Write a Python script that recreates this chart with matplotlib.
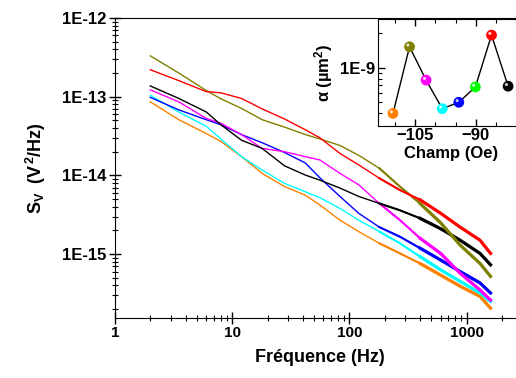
import matplotlib
matplotlib.use('Agg')
import matplotlib.pyplot as plt
from matplotlib import ticker
import matplotlib.transforms as mtransforms

plt.rcParams['font.family'] = ['Liberation Sans', 'DejaVu Sans']
plt.rcParams['font.weight'] = 'bold'
plt.rcParams['mathtext.fontset'] = 'custom'
plt.rcParams['mathtext.rm'] = 'Liberation Sans:bold'
plt.rcParams['mathtext.it'] = 'Liberation Sans:bold'
plt.rcParams['mathtext.bf'] = 'Liberation Sans:bold'

# frequencies (Hz) where the spectra were read
freq = [2, 3.5, 6, 8, 12, 18, 28, 42, 56, 83, 120, 180, 270, 400, 600, 880, 1300, 1600]

# noise spectra S_V (V^2/Hz), one per field
s_olive = [3.3e-13, 2.0e-13, 1.2e-13, 9.4e-14, 7.1e-14, 5.1e-14, 4.1e-14, 3.3e-14, 2.9e-14,
           2.4e-14, 1.8e-14, 1.23e-14, 7.2e-15, 4.4e-15, 2.5e-15, 1.3e-15, 7.6e-16, 5.2e-16]
s_red = [2.2e-13, 1.6e-13, 1.16e-13, 1.12e-13, 9.5e-14, 7.0e-14, 5.2e-14, 3.8e-14, 3.0e-14,
         1.9e-14, 1.36e-14, 9.2e-15, 6.5e-15, 4.9e-15, 3.3e-15, 2.2e-15, 1.5e-15, 1.02e-15]
s_black = [1.37e-13, 9.5e-14, 6.4e-14, 4.4e-14, 2.8e-14, 2.2e-14, 1.32e-14, 1.01e-14, 8.7e-15,
           6.9e-15, 5.4e-15, 4.4e-15, 3.6e-15, 2.85e-15, 2.1e-15, 1.5e-15, 1.02e-15, 7.3e-16]
s_magenta = [1.22e-13, 8.6e-14, 5.3e-14, 4.6e-14, 3.3e-14, 2.2e-14, 2.0e-14, 1.73e-14, 1.57e-14,
             1.06e-14, 7.6e-15, 4.4e-15, 2.7e-15, 1.59e-15, 1.02e-15, 5.7e-16, 3.5e-16, 2.6e-16]
s_blue = [9.8e-14, 6.8e-14, 5.1e-14, 4.4e-14, 3.3e-14, 2.6e-14, 1.95e-14, 1.44e-14, 9.3e-15,
          5.4e-15, 3.3e-15, 2.2e-15, 1.66e-15, 1.19e-15, 8.4e-16, 6.0e-16, 4.3e-16, 3.2e-16]
s_cyan = [1.04e-13, 6.4e-14, 4.2e-14, 2.9e-14, 1.73e-14, 1.17e-14, 7.9e-15, 6.2e-15, 5.2e-15,
          3.8e-15, 2.7e-15, 1.93e-15, 1.37e-15, 9.3e-16, 6.3e-16, 4.5e-16, 3.2e-16, 2.5e-16]
s_orange = [8.6e-14, 5.1e-14, 3.4e-14, 2.7e-14, 1.73e-14, 1.06e-14, 7.2e-15, 5.6e-15, 4.2e-15,
            2.7e-15, 1.93e-15, 1.37e-15, 1.02e-15, 7.6e-16, 5.4e-16, 3.9e-16, 2.9e-16, 2.05e-16]

# inset: alpha vs field
champ = [-110.5, -106.4, -102.3, -98.3, -94.2, -90.1, -86.1, -82.0]
alpha = [4.0e-10, 1.52e-9, 7.8e-10, 4.4e-10, 5.0e-10, 6.8e-10, 1.92e-9, 6.9e-10]
alpha_colors = ['#ff8000', '#808000', '#ff00ff', '#00ffff', '#0000ff', '#00ff00', '#ff0000', '#000000']

spectra = [(s_orange, '#ff8000'), (s_cyan, '#00ffff'), (s_blue, '#0000ff'),
           (s_magenta, '#ff00ff'), (s_black, '#000000'), (s_olive, '#808000'),
           (s_red, '#ff0000')]

fig = plt.figure(figsize=(5.16, 3.78), dpi=100)
ax = fig.add_axes([0.2229, 0.1587, 0.795, 0.7937])

for s, c in spectra:
    ax.plot(freq, s, color=c, lw=1.0)
    # noisy band at high frequency looks thicker
    ax.plot(freq[11:], s[11:], color=c, lw=1.5)
    ax.plot(freq[13:], s[13:], color=c, lw=2.3)

ax.set_xscale('log')
ax.set_yscale('log')
ax.set_xlim(1, 3162)
ax.set_ylim(1.54e-16, 1e-12)
ax.spines['right'].set_visible(False)

ax.xaxis.set_major_locator(ticker.FixedLocator([1, 10, 100, 1000]))
ax.xaxis.set_major_formatter(ticker.FixedFormatter(['1', '10', '100', '1000']))
ax.xaxis.set_minor_locator(ticker.LogLocator(base=10, subs=range(2, 10), numticks=20))
ax.yaxis.set_major_locator(ticker.FixedLocator([1e-15, 1e-14, 1e-13, 1e-12]))
ax.yaxis.set_major_formatter(ticker.FixedFormatter(['1E-15', '1E-14', '1E-13', '1E-12']))
ax.yaxis.set_minor_locator(ticker.LogLocator(base=10, subs=range(2, 10), numticks=20))
ax.yaxis.set_minor_formatter(ticker.NullFormatter())
ax.xaxis.set_minor_formatter(ticker.NullFormatter())
ax.tick_params(which='major', direction='inout', length=8, width=1, pad=2)
ax.tick_params(which='minor', direction='inout', length=5, width=0.8)
ax.tick_params(axis='x', which='both', top=False, labelsize=11)
ax.tick_params(axis='y', labelsize=12)

ax.set_xlabel('Fréquence (Hz)', fontsize=13, fontweight='bold', labelpad=6)
ax.set_ylabel(r'$S_V$  ($V^2$/Hz)', fontsize=13, fontweight='bold', labelpad=10)

# inset
ins = fig.add_axes([0.7326, 0.6675, 0.2834, 0.2822])
ins.plot(champ, alpha, color='black', lw=1.0, zorder=2)
ins.scatter(champ, alpha, s=60, c=alpha_colors, edgecolors='none', zorder=3)
hl = mtransforms.offset_copy(ins.transData, fig=fig, x=-1.2, y=1.2, units='points')
ins.scatter(champ, alpha, s=5, c='white', alpha=0.8, edgecolors='none', zorder=4, transform=hl)
ins.set_yscale('log')
ins.set_xlim(-114.2, -78)
ins.set_ylim(3.13e-10, 2.65e-9)
ins.spines['right'].set_visible(False)
ins.xaxis.set_major_locator(ticker.FixedLocator([-105, -90, -75]))
ins.xaxis.set_minor_locator(ticker.MultipleLocator(5))
ins.yaxis.set_major_locator(ticker.FixedLocator([1e-9]))
ins.yaxis.set_major_formatter(ticker.FixedFormatter(['1E-9']))
ins.yaxis.set_minor_locator(ticker.LogLocator(base=10, subs=range(2, 10), numticks=20))
ins.yaxis.set_minor_formatter(ticker.NullFormatter())
ins.tick_params(which='both', direction='in', top=True, right=False, labelsize=12, pad=2)
ins.tick_params(which='major', length=5, width=1)
ins.tick_params(which='minor', length=3, width=0.8)
ins.set_xlabel('Champ (Oe)', fontsize=12, fontweight='bold', labelpad=2)
ins.set_ylabel('α (µm$^2$)', fontsize=12, fontweight='bold', labelpad=4)

fig.savefig('out.png', dpi=100)
